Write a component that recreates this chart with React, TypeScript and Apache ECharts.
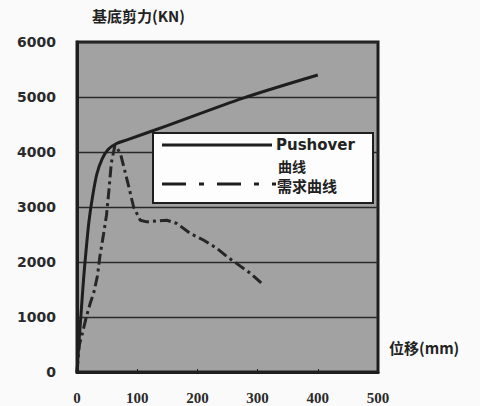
import React, { useEffect, useRef } from "react";
import * as echarts from "echarts";

const xTicks = [0, 100, 200, 300, 400, 500];
const yTicks = [0, 1000, 2000, 3000, 4000, 5000, 6000];

const pushoverX = [0, 3, 7, 11, 15, 20, 26, 33, 42, 52, 65, 83, 150, 276, 400];
const pushoverY = [0, 500, 1100, 1700, 2200, 2750, 3200, 3600, 3880, 4050, 4150, 4220, 4480, 4980, 5400];

const demandX = [0, 4, 10, 15, 22, 28, 34, 38, 44, 49, 53, 57, 63, 72, 86, 94, 105, 116, 149, 166, 188, 210, 232, 249, 265, 288, 310];
const demandY = [0, 500, 750, 980, 1250, 1450, 1750, 2100, 2500, 2850, 3300, 3800, 4120, 3980, 3370, 3000, 2760, 2730, 2760, 2700, 2520, 2400, 2250, 2100, 1975, 1795, 1580];

const seriesNames = ["Pushover\n曲线", "需求曲线"];
const yTitle = "基底剪力(KN)";
const xTitle = "位移(mm)";

export default function App() {
  const ref = useRef<HTMLDivElement>(null);
  useEffect(() => {
    document.body.style.margin = "0";
    if (!ref.current) return;
    const chart = echarts.init(ref.current, undefined, { renderer: "svg" });
    const ink = "#1e1e1e";
    const legendLeft = 153;
    const legendTop = 133;
    chart.setOption({
      animation: false,
      backgroundColor: "#fafafa",
      grid: {
        left: 77,
        right: 102,
        top: 42,
        bottom: 34,
        show: true,
        backgroundColor: "#a2a2a2",
        borderColor: ink,
        borderWidth: 3,
      },
      xAxis: {
        type: "value",
        min: xTicks[0],
        max: xTicks[xTicks.length - 1],
        interval: 100,
        axisLine: { show: true, lineStyle: { color: ink, width: 3 } },
        axisTick: { show: true, inside: true, length: 3, lineStyle: { color: ink, width: 1 } },
        splitLine: { show: false },
        axisLabel: {
          margin: 18,
          color: "#2a2a2a",
          fontFamily: "Liberation Serif",
          fontWeight: "bold",
          fontSize: 15,
          formatter: (v: number) => String(v),
        },
      },
      yAxis: {
        type: "value",
        min: yTicks[0],
        max: yTicks[yTicks.length - 1],
        interval: 1000,
        axisLine: { show: true, lineStyle: { color: ink, width: 3 } },
        axisTick: { show: false },
        splitLine: { show: true, lineStyle: { color: "#2a2a2a", width: 1.3 } },
        axisLabel: {
          margin: 21,
          color: "#2a2a2a",
          fontFamily: "DejaVu Sans",
          fontWeight: "bold",
          fontSize: 14,
          formatter: (v: number) => String(v),
        },
      },
      series: [
        {
          name: seriesNames[0],
          type: "line",
          data: pushoverX.map((x, i) => [x, pushoverY[i]]),
          smooth: 0.3,
          showSymbol: false,
          lineStyle: { color: ink, width: 3 },
          z: 3,
        },
        {
          name: seriesNames[1],
          type: "line",
          data: demandX.map((x, i) => [x, demandY[i]]),
          showSymbol: false,
          lineStyle: { color: "#262626", width: 3, type: [11, 4, 3, 4] },
          z: 2,
        },
      ],
      graphic: [
        {
          type: "text",
          left: 92,
          top: 8,
          style: {
            text: yTitle,
            fill: "#222",
            font: "bold 15px 'Noto Sans CJK SC'",
          },
        },
        {
          type: "text",
          left: 389,
          top: 340,
          style: {
            text: xTitle,
            fill: "#222",
            font: "bold 15px 'Noto Sans CJK SC'",
          },
        },
        {
          type: "rect",
          shape: { x: legendLeft, y: legendTop, width: 220, height: 70 },
          style: { fill: "#fdfdfd", stroke: ink, lineWidth: 2 },
          z: 10,
        },
        {
          type: "line",
          shape: { x1: legendLeft + 9, y1: legendTop + 12, x2: legendLeft + 119, y2: legendTop + 12 },
          style: { stroke: ink, lineWidth: 3 },
          z: 11,
        },
        {
          type: "line",
          shape: { x1: legendLeft + 9, y1: legendTop + 51, x2: legendLeft + 123, y2: legendTop + 51 },
          style: { stroke: ink, lineWidth: 3, lineDash: [24, 13, 5, 13] },
          z: 11,
        },
        {
          type: "text",
          x: legendLeft + 123,
          y: legendTop + 12,
          style: {
            text: "Pushover",
            fill: "#222",
            font: "bold 15px 'DejaVu Sans'",
            verticalAlign: "middle",
          },
          z: 11,
        },
        {
          type: "text",
          x: legendLeft + 125,
          y: legendTop + 33,
          style: {
            text: "曲线",
            fill: "#222",
            font: "bold 14px 'Noto Sans CJK SC'",
            verticalAlign: "middle",
          },
          z: 11,
        },
        {
          type: "text",
          x: legendLeft + 124,
          y: legendTop + 52,
          style: {
            text: "需求曲线",
            fill: "#222",
            font: "bold 15px 'Noto Sans CJK SC'",
            verticalAlign: "middle",
          },
          z: 11,
        },
      ],
    });
    return () => chart.dispose();
  }, []);
  return <div ref={ref} style={{ width: 480, height: 406 }} />;
}
